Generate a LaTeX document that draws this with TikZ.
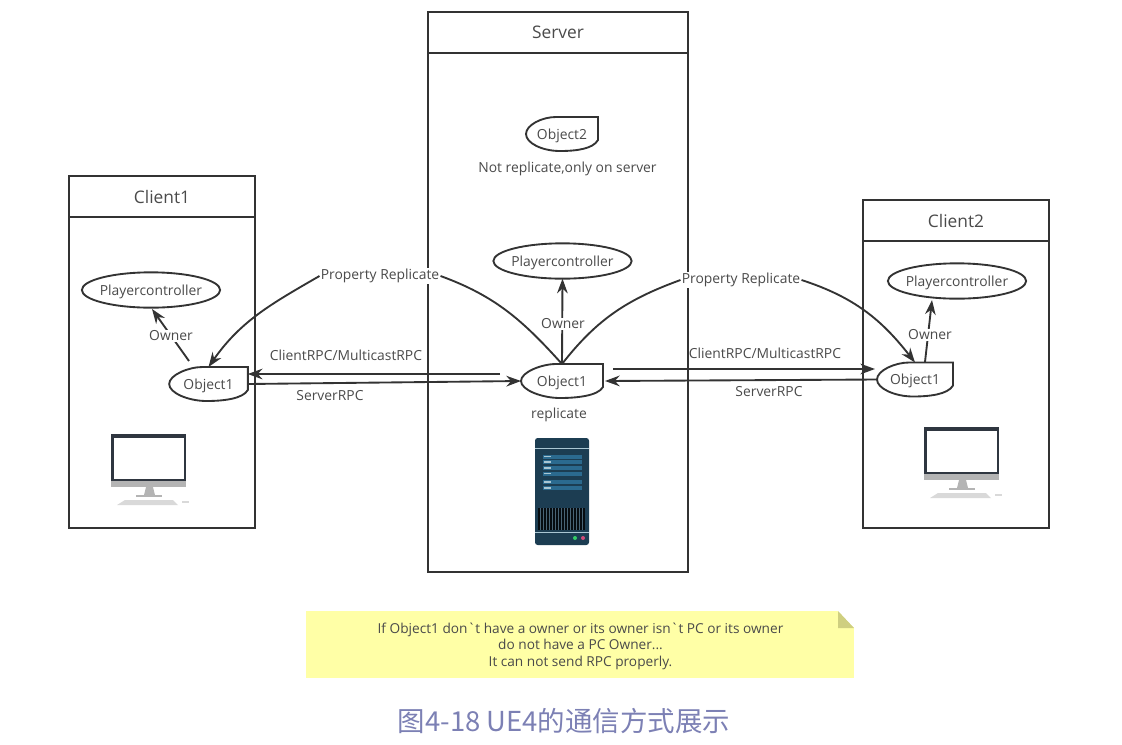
\documentclass[tikz,border=0pt]{standalone}
\usepackage{fontspec}
\usetikzlibrary{shapes,arrows,arrows.meta}
\newfontfamily\diagfont{Open Sans}
\newfontfamily\cjk{Noto Sans CJK SC}
\definecolor{inkline}{HTML}{333333}
\definecolor{inktext}{HTML}{4A4A4A}
\definecolor{notefill}{HTML}{FFFFA6}
\definecolor{notefold}{HTML}{CFCF80}
\definecolor{captioncol}{HTML}{7C80B4}
\definecolor{framecol}{HTML}{2F3640}
\definecolor{standcol}{HTML}{B4B4B4}
\definecolor{rackcol}{HTML}{1C3D52}
\definecolor{rackrow}{HTML}{2B6A8F}
\definecolor{rackrule}{HTML}{A9C6D3}

% desktop computer, #1 #2 = top left of its screen
\newcommand{\desktop}[2]{
  \begin{scope}[shift={(#1,#2)}]
    \fill [framecol] (0,0) rectangle (75,47);
    \fill [white] (2.5,3.5) rectangle (72.5,44.5);
    \fill [standcol] (0,47) rectangle (75,53);
    \fill [standcol] (35,53) -- (42,53) -- (44,61) -- (33,61) -- cycle;
    \fill [standcol] (25,61) rectangle (51,63);
    \fill [black!15] (14,66) -- (62,66) -- (67,71) -- (6,71) -- cycle;
    \fill [black!15] (71,67) rectangle (78,68.5);
  \end{scope}
}

\begin{document}
\begin{tikzpicture}[x=0.75pt, y=-0.75pt, line width=1.4pt, draw=inkline,
    font=\diagfont\fontsize{10.4}{12}\selectfont, text=inktext, outer sep=0pt]
  \tikzstyle{titlebox} = [rectangle, draw, font=\diagfont\fontsize{13}{15}\selectfont,
    inner sep=0pt, anchor=north west]
  \tikzstyle{bodybox} = [rectangle, draw, inner sep=0pt, anchor=north west]
  \tikzstyle{owned} = [ellipse, draw, minimum width=101pt, minimum height=26.5pt,
    inner ysep=0pt, inner xsep=-1.7pt, text depth=0pt]
  \tikzstyle{objbox} = [rectangle, inner sep=0pt, minimum height=25.5pt, text depth=0pt]
  \tikzstyle{tag} = [fill=white, inner sep=1pt]
  \tikzstyle{plain} = [inner sep=0pt, text depth=0pt]
  \tikzstyle{flow} = [draw, -{Stealth[length=11pt, width=8pt]}]

  \useasboundingbox (0,0) rectangle (1122,744);

  % the three machines
  \node [bodybox, minimum width=139.5pt, minimum height=233pt] (clientbody) at (69,217) {};
  \node [titlebox, minimum width=139.5pt, minimum height=30.75pt] (clienttitle) at (69,176) {Client1};
  \node [bodybox, minimum width=195pt, minimum height=389.25pt] (serverbody) at (428,53) {};
  \node [titlebox, minimum width=195pt, minimum height=30.75pt] (servertitle) at (428,12) {Server};
  \node [bodybox, minimum width=139.5pt, minimum height=215.25pt] (otherbody) at (863,241) {};
  \node [titlebox, minimum width=139.5pt, minimum height=30.75pt] (othertitle) at (863,200) {Client2};

  % what is inside them
  \node [owned] (clientpc) at (151,290) {Playercontroller};
  \node [owned] (serverpc) at (562.5,261) {Playercontroller};
  \node [owned] (otherpc) at (957,281) {Playercontroller};

  \node [objbox, minimum width=59pt] (clientobj) at (208.5,384) {Object1};
  \node [objbox, minimum width=61.5pt] (serverobj) at (562,381) {Object1};
  \node [objbox, minimum width=57pt] (otherobj) at (915,379.5) {Object1};
  \node [objbox, minimum width=54pt] (onlyobj) at (562,134) {Object2};

  \foreach \n in {clientobj,serverobj,otherobj,onlyobj}
    \draw (\n.north east) -- ([shift={(0,-11)}]\n.south east)
      .. controls ([shift={(-5,-2)}]\n.south east) and ([shift={(14,0)}]\n.south) .. ([shift={(-2,0)}]\n.south)
      .. controls ([shift={(-20,0)}]\n.south) and ([shift={(0,9)}]\n.west) .. (\n.west)
      .. controls ([shift={(0,-9)}]\n.west) and ([shift={(-20,0)}]\n.north) .. ([shift={(-6,0)}]\n.north)
      -- cycle;

  \node [plain] (onlytext) at (567.5,167) {Not replicate,only on server};
  \node [plain] (replicatetext) at (559,413) {replicate};

  % labels that sit on a connector
  \node [tag] (propleft) at (380,276) {Property Replicate};
  \node [tag] (propright) at (741,280) {Property Replicate};

  % connectors
  \path [flow] (propleft.west) to [out=210, in=55] (clientobj.north);
  \path [draw] (serverobj.north) to [out=132, in=-20] (propleft.east);
  \path [draw] (serverobj.north) to [out=52, in=200] (propright.west);
  \path [flow] (propright.east) to [out=-18, in=128] (otherobj.north);

  \coordinate (clientstart) at (189,361);
  \coordinate (otherstart) at (925,362);
  \path [flow] (clientstart) -- (152,309) coordinate (clienthead);
  \path [flow] (serverobj.north) -- (serverpc.south);
  \path [flow] (otherstart) -- (932,300) coordinate (otherhead);
  \node [tag] (ownerleft) at (171,336) {Owner};
  \node [tag] (ownermid) at (563,324) {Owner};
  \node [tag] (ownerright) at (930,335) {Owner};

  \coordinate (rpcleft) at (500,374);
  \coordinate (rpcright) at (613,369);
  \coordinate (backright) at (605,381);
  \path [flow] (rpcleft) -- (rpcleft -| clientobj.east);
  \path [flow] (clientobj.east) -- (serverobj.west);
  \path [flow] (rpcright) -- (875,369);
  \path [flow] (otherobj.west) -- (backright);

  \node [plain] (rpcleftlabel) at (346,355) {ClientRPC/MulticastRPC};
  \node [plain] (backleftlabel) at (330,395) {ServerRPC};
  \node [plain] (rpcrightlabel) at (765,353) {ClientRPC/MulticastRPC};
  \node [plain] (backrightlabel) at (769,391) {ServerRPC};

  % computers and the rack
  \desktop{111}{434}
  \desktop{924}{427}

  \fill [rackcol, rounded corners=2pt] (535,438) rectangle (589,545);
  \fill [rackrule] (535,447.5) rectangle (589,449);
  \fill [rackrule] (535,531.5) rectangle (589,533);
  \foreach \y in {454.5,460,466,471.7,480,486}{
    \fill [rackrow] (543,\y) rectangle (582,\y+4.2);
    \fill [rackrule] (544,\y+1.4) rectangle (551,\y+2.6);
  }
  \fill [black!80!rackcol] (538,508) rectangle (585,530);
  \foreach \x in {540,543,...,584}
    \fill [rackcol!80!white] (\x,508) rectangle (\x+0.8,530);
  \fill [green!50!teal!80!white] (575,538) circle (2);
  \fill [purple!70!white] (583,538) circle (2);

  % note and caption
  \node [rectangle, fill=notefill, inner sep=0pt, minimum width=411pt, minimum height=50.25pt,
    anchor=north west] (note) at (306,611) {};
  \fill [white] (note.north east) -- ([shift={(-16,0)}]note.north east) -- ([shift={(0,17)}]note.north east) -- cycle;
  \fill [notefold] ([shift={(-16,0)}]note.north east) -- ([shift={(-16,17)}]note.north east) -- ([shift={(0,17)}]note.north east) -- cycle;
  \node [plain, align=center, font=\diagfont\fontsize{10.25}{12.4}\selectfont] (notetext) at (580.5,644.5)
    {If Object1 don`t have a owner or its owner isn`t PC or its owner\\do not have a PC Owner...\\It can not send RPC properly.};
  \node [plain, text=captioncol, font=\cjk\fontsize{20.6}{24}\selectfont] (caption) at (564,720) {图4-18 UE4的通信方式展示};
\end{tikzpicture}
\end{document}
